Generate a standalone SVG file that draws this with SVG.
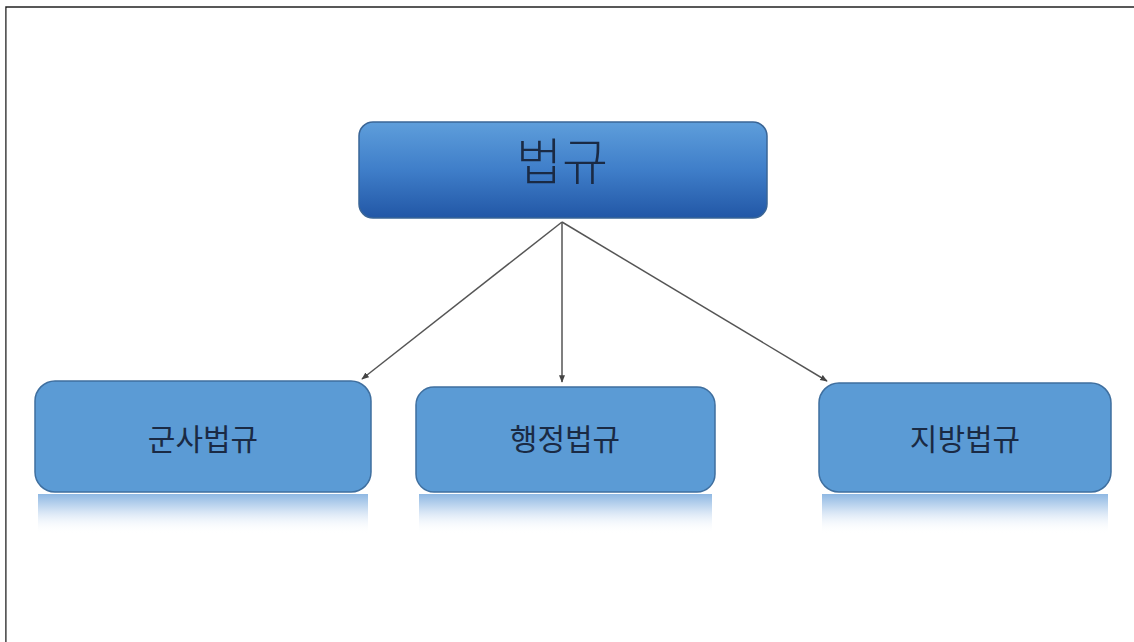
<svg xmlns="http://www.w3.org/2000/svg" width="1134" height="642" viewBox="0 0 1134 642">
<defs>
<linearGradient id="topg" x1="0" y1="0" x2="0" y2="1">
<stop offset="0" stop-color="#5e9edb"/>
<stop offset="0.5" stop-color="#3f7ec9"/>
<stop offset="1" stop-color="#2257a6"/>
</linearGradient>
<linearGradient id="refl" x1="0" y1="0" x2="0" y2="1">
<stop offset="0" stop-color="#8fb8e3"/>
<stop offset="0.4" stop-color="#cfe0f3"/>
<stop offset="1" stop-color="#ffffff" stop-opacity="0"/>
</linearGradient>
<marker id="arr" viewBox="0 0 10 10" refX="9" refY="5" markerWidth="5" markerHeight="5" orient="auto">
<path d="M0,1 L10,5 L0,9 z" fill="#444"/>
</marker>
<style>
.box{fill:#5b9bd5;stroke:#3f6f9f;stroke-width:1.5}
.lbl{font-family:"Noto Sans CJK KR","Noto Sans",sans-serif;fill:#1a2a44;text-anchor:middle}
.conn{stroke:#555;stroke-width:1.5;fill:none;marker-end:url(#arr)}
</style>
</defs>
<rect width="1134" height="642" fill="#ffffff"/>
<path d="M6,642 V7 H1134" fill="none" stroke="#222" stroke-width="1.5"/>
<path d="M6.5,8 V642" stroke="#888" stroke-width="1"/>
<g id="connectors">
<line class="conn" x1="562" y1="222" x2="362" y2="379"/>
<line class="conn" x1="562" y1="222" x2="562" y2="382"/>
<line class="conn" x1="562" y1="222" x2="827" y2="381"/>
</g>
<g id="node-top">
<rect x="359" y="122" width="408" height="96" rx="14" fill="url(#topg)" stroke="#3a6596" stroke-width="1.5"/>
<text class="lbl" x="562" y="180" font-size="50" font-weight="300">법규</text>
</g>
<g id="node-military">
<rect x="38" y="494" width="330" height="40" fill="url(#refl)"/>
<rect class="box" x="35" y="381" width="336" height="111" rx="20"/>
<text class="lbl" x="203" y="450" font-size="30">군사법규</text>
</g>
<g id="node-admin">
<rect x="419" y="494" width="293" height="40" fill="url(#refl)"/>
<rect class="box" x="416" y="387" width="299" height="105" rx="18"/>
<text class="lbl" x="565" y="450" font-size="30">행정법규</text>
</g>
<g id="node-local">
<rect x="822" y="494" width="286" height="40" fill="url(#refl)"/>
<rect class="box" x="819" y="383" width="292" height="109" rx="20"/>
<text class="lbl" x="965" y="450" font-size="30">지방법규</text>
</g>
</svg>
